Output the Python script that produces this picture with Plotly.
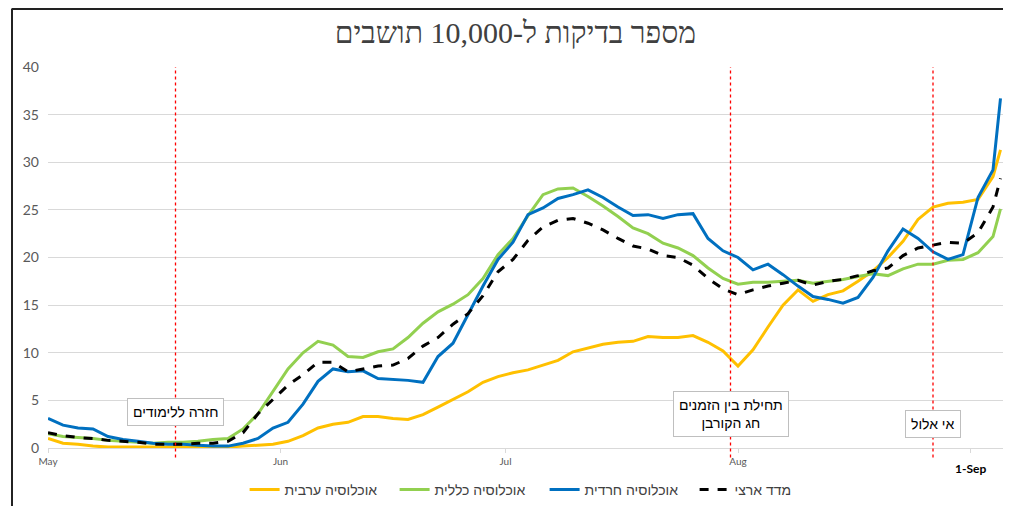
import pandas as pd
import plotly.graph_objects as go

# every second day from 1 May, last reading 5 Sep
dates = list(pd.date_range("2020-05-01", periods=64, freq="2D")) + [pd.Timestamp("2020-09-05")]

arab = [1.0, 0.5, 0.4, 0.2, 0.1, 0.1, 0.1, 0.1, 0.1, 0.1, 0.1, 0.1, 0.1, 0.2, 0.3, 0.4,
        0.7, 1.3, 2.1, 2.5, 2.7, 3.3, 3.3, 3.1, 3.0, 3.5, 4.3, 5.1, 5.9, 6.9, 7.5, 7.9,
        8.2, 8.7, 9.2, 10.1, 10.5, 10.9, 11.1, 11.2, 11.7, 11.6, 11.6, 11.8, 11.1, 10.2, 8.6, 10.3,
        12.7, 15.0, 16.6, 15.4, 16.1, 16.5, 17.5, 18.6, 20.0, 21.7, 24.0, 25.3, 25.7, 25.8, 26.1, 28.5,
        31.3]
general = [1.5, 1.2, 1.1, 1.0, 0.8, 0.7, 0.6, 0.5, 0.6, 0.6, 0.7, 0.9, 1.0, 2.0, 3.6, 6.0,
           8.3, 10.0, 11.2, 10.8, 9.6, 9.5, 10.1, 10.4, 11.6, 13.1, 14.3, 15.1, 16.1, 17.8, 20.3, 22.0,
           24.4, 26.6, 27.2, 27.3, 26.4, 25.4, 24.3, 23.1, 22.5, 21.5, 21.0, 20.2, 18.9, 17.8, 17.2, 17.4,
           17.4, 17.5, 17.6, 17.3, 17.5, 17.7, 18.0, 18.3, 18.1, 18.8, 19.3, 19.3, 19.7, 19.8, 20.5, 22.2,
           25.1]
haredi = [3.1, 2.4, 2.1, 2.0, 1.2, 0.9, 0.7, 0.5, 0.4, 0.4, 0.3, 0.2, 0.2, 0.5, 1.0, 2.1,
          2.7, 4.6, 7.0, 8.3, 8.0, 8.1, 7.3, 7.2, 7.1, 6.9, 9.6, 11.0, 14.0, 17.0, 19.8, 21.6,
          24.5, 25.2, 26.2, 26.6, 27.1, 26.3, 25.3, 24.4, 24.5, 24.1, 24.5, 24.6, 22.0, 20.7, 20.0, 18.7,
          19.3, 18.2, 17.0, 15.9, 15.6, 15.2, 15.8, 17.9, 20.7, 23.0, 22.0, 20.6, 19.8, 20.3, 26.3, 29.2,
          36.7]
national = [1.6, 1.3, 1.1, 1.0, 0.8, 0.7, 0.6, 0.4, 0.4, 0.4, 0.5, 0.5, 0.7, 1.6, 3.6, 5.1,
            6.6, 7.7, 9.0, 9.0, 8.0, 8.3, 8.6, 8.7, 9.4, 10.7, 11.6, 13.0, 14.1, 16.0, 18.5, 19.8,
            21.8, 23.2, 23.9, 24.1, 23.6, 22.9, 22.0, 21.2, 20.9, 20.2, 20.0, 19.2, 17.8, 16.7, 16.1, 16.6,
            17.0, 17.3, 17.6, 17.1, 17.5, 17.7, 18.1, 18.6, 18.9, 20.2, 21.0, 21.3, 21.6, 21.5, 22.6, 25.3,
            28.3]

series_names = ["אוכלוסיה ערבית", "אוכלוסיה כללית", "אוכלוסיה חרדית", "מדד ארצי"]
series_colors = ["#FFC000", "#92D050", "#0070C0", "#000000"]

event_dates = ["2020-05-18", "2020-07-31", "2020-08-27"]
event_labels = ["חזרה ללימודים", "תחילת בין הזמנים<br>חג הקורבן", "אי אלול"]
event_label_y = [3.75, 3.6, 2.5]

tick_dates = ["2020-05-01", "2020-06-01", "2020-07-01", "2020-08-01", "2020-09-01"]
tick_text = ["May", "Jun", "Jul", "Aug", ""]

fig = go.Figure()
for name, vals, col in zip(series_names, [arab, general, haredi, national], series_colors):
    fig.add_trace(go.Scatter(
        x=dates, y=vals, name=name, mode="lines",
        line=dict(color=col, width=3, dash="dash" if name == "מדד ארצי" else "solid"),
    ))

# red dotted event lines + label boxes
for d, lab, ly in zip(event_dates, event_labels, event_label_y):
    fig.add_shape(type="line", x0=d, x1=d, xref="x", yref="paper", y0=-0.025, y1=1,
                  line=dict(color="#FF0000", width=1.3, dash="dot"))
    fig.add_annotation(x=d, y=ly, text=lab, showarrow=False,
                       font=dict(family="Liberation Sans", size=14, color="#000000"),
                       bgcolor="white", bordercolor="#BFBFBF", borderwidth=1, borderpad=5)

fig.add_annotation(x="2020-09-01", y=-0.03, yref="paper", yanchor="top", text="<b>1-Sep</b>",
                   showarrow=False, font=dict(family="Lato", size=12, color="#000000"))

# frame lines at top / left like the source image
fig.add_shape(type="line", xref="paper", yref="paper", x0=-0.0377, x1=1.02, y0=1.1536, y1=1.1536,
              line=dict(color="#222222", width=3))
fig.add_shape(type="line", xref="paper", yref="paper", x0=-0.0377, x1=-0.0377, y0=-0.17, y1=1.1536,
              line=dict(color="#222222", width=2))

# page body has an 8px margin all round, keep the figure inside the window (no scrollbars)
fig.update_layout(
    width=995, height=498,
    margin=dict(l=40, r=0, t=59, b=55),
    paper_bgcolor="white", plot_bgcolor="white",
    title=dict(text="מספר בדיקות ל-10,000 תושבים", x=0.51, xanchor="center", y=0.95, yanchor="middle",
               font=dict(family="Liberation Serif", size=30, color="#404040")),
    legend=dict(orientation="h", x=0.52, xanchor="center", y=-0.11, yanchor="middle",
                entrywidth=105, font=dict(family="Liberation Sans", size=14, color="#404040")),
    showlegend=True,
)
fig.update_xaxes(range=["2020-05-01", "2020-09-05 08:00"], tickvals=tick_dates, ticktext=tick_text,
                 showgrid=False, showline=True, linecolor="#D9D9D9", linewidth=1,
                 ticks="outside", ticklen=4, tickcolor="#D9D9D9",
                 tickfont=dict(family="Lato", size=10, color="#595959"))
fig.update_yaxes(range=[0, 40], dtick=5, showgrid=True, gridcolor="#D9D9D9", gridwidth=1,
                 zeroline=False, ticklabelstandoff=8,
                 tickfont=dict(family="Lato", size=14, color="#595959"))

fig.write_html("out.html")
